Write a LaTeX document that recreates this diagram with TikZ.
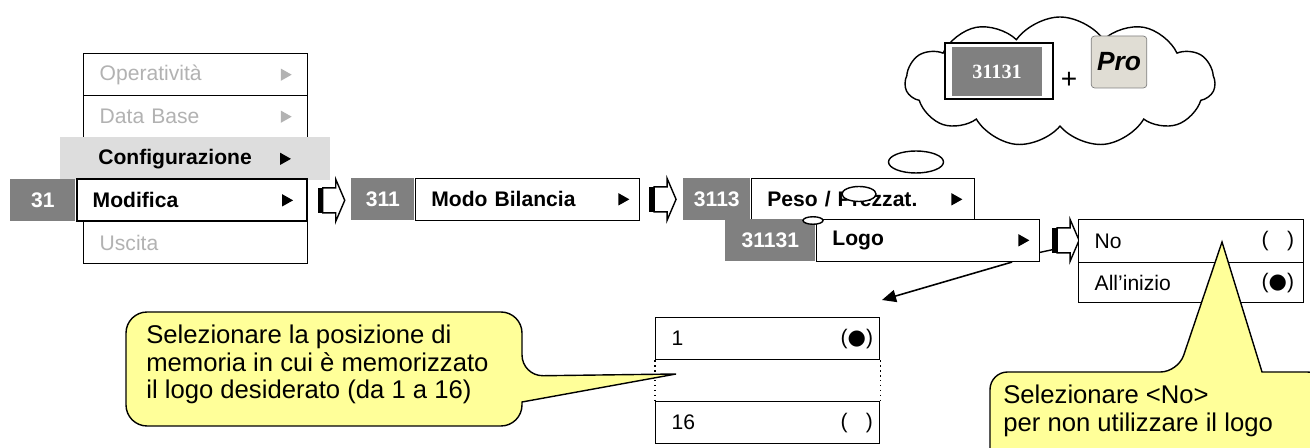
\documentclass[tikz,border=0pt]{standalone}
\usepackage{fontspec}
\setmainfont{Liberation Sans}
\newfontfamily\codefont{Liberation Serif}
\newfontfamily\dotfont{DejaVu Sans}
\usepackage{tikz}
\usetikzlibrary{shapes.geometric, shapes.symbols, arrows.meta, positioning, calc}
\definecolor{mygray}{RGB}{128,128,128}
\definecolor{mylight}{RGB}{221,221,221}
\definecolor{mydim}{RGB}{178,178,178}
\definecolor{myyellow}{RGB}{255,255,153}
\definecolor{mykey}{RGB}{224,221,212}
\tikzset{
  rowbox/.style={rectangle, draw=black, fill=white, line width=0.8pt,
    anchor=north west, minimum height=0.84cm, inner xsep=0.32cm,
    text width=#1, align=left, font=\fontsize{12}{14}\selectfont},
  menubox/.style={rowbox=#1, font=\fontsize{12}{14}\selectfont\bfseries},
  numbox/.style={rectangle, fill=mygray, text=white, anchor=north west,
    minimum width=#1, minimum height=0.84cm, inner sep=0pt,
    font=\fontsize{12}{14}\selectfont\bfseries},
  tri/.style={isosceles triangle, isosceles triangle stretches, fill=#1,
    inner sep=0pt, minimum width=7pt, minimum height=6.2pt},
  val/.style={anchor=east, inner sep=0pt, font=\fontsize{12}{14}\selectfont},
  bubble/.style={ellipse, draw=black, fill=white, line width=0.8pt, inner sep=0pt},
  callout/.style={draw=black, fill=myyellow, line width=0.8pt},
  note/.style={anchor=north west, align=left, inner sep=0pt,
    font=\fontsize{14.6}{15.6}\selectfont},
  pics/blockarrow/.style={code={
    \fill[black] (0,-12.5) rectangle (5,12.5);
    \draw[line width=0.8pt, fill=white]
      (5,-12.5) -- (18,-12.5) -- (18,-21) -- (27,0) -- (18,21) -- (18,12.5) -- (5,12.5) -- cycle;
  }}
}

\begin{document}
\begin{tikzpicture}[x=0.02cm, y=-0.02cm]
  \useasboundingbox (0,0) rectangle (1310,448);

  % Menu 31
  \node[rowbox=3.84cm, text=mydim] (oper) at (83,53) {Operatività};
  \node[tri=mydim] (operT) at ([xshift=-0.48cm]oper.east) {};
  \node[rowbox=3.84cm, text=mydim] (datab) at (83,95) {Data Base};
  \node[tri=mydim] (databT) at ([xshift=-0.48cm]datab.east) {};
  \node[rectangle, fill=mylight, anchor=north west, minimum width=5.4cm,
    minimum height=0.86cm, inner xsep=0.76cm, text width=3.88cm, align=left,
    font=\fontsize{12}{14}\selectfont\bfseries] (conf) at (60,137) {Configurazione};
  \node[tri=black] (confT) at ([xshift=-0.94cm]conf.east) {};
  \node[rowbox=3.84cm, text=mydim] (uscita) at (83,221) {Uscita};
  \node[numbox=1.3cm] (n31) at (10,179) {31};
  \node[menubox=3.96cm, line width=1.2pt, right=0pt of n31] (modif) {Modifica};
  \node[tri=black] (modifT) at ([xshift=-0.44cm]modif.east) {};
  \pic at ([xshift=0.2cm]modif.east) {blockarrow};

  % Menu 311
  \node[numbox=1.26cm] (n311) at (351,178) {311};
  \node[menubox=3.84cm, right=0pt of n311] (modo) {Modo Bilancia};
  \node[tri=black] (modoT) at ([xshift=-0.36cm]modo.east) {};
  \pic at ([xshift=0.18cm]modo.east) {blockarrow};

  % Menu 3113 / 31131
  \node[numbox=1.34cm] (n3113) at (683,178) {3113};
  \node[menubox=3.82cm, right=0pt of n3113] (peso) {Peso / Prezzat.};
  \node[tri=black] (pesoT) at ([xshift=-0.4cm]peso.east) {};
  \node[bubble, minimum width=0.68cm, minimum height=0.3cm] (bub2) at (859,194) {};
  \node[numbox=1.8cm] (n31131) at (725,219) {31131};
  \node[menubox=3.82cm, right=0pt of n31131] (logo) {Logo};
  \node[tri=black] (logoT) at ([xshift=-0.36cm]logo.east) {};
  \node[bubble, minimum width=0.4cm, minimum height=0.15cm] (bub3) at (813,220.5) {};
  \node[bubble, minimum width=1.1cm, minimum height=0.44cm] (bub1) at (916,162) {};

  % Thought cloud
  \node[cloud, draw=black, fill=white, line width=0.8pt, cloud puffs=11,
    cloud puff arc=110, aspect=2.3, minimum width=6.2cm, minimum height=2.6cm] (think) at (1060,82) {};
  \node[draw=black, fill=white, line width=0.9pt, minimum width=2.16cm, minimum height=1.12cm] (keyframe) at (999,71) {};
  \node[fill=mygray, text=white, minimum width=1.8cm, minimum height=0.98cm,
    font=\codefont\bfseries\fontsize{11.5}{12}\selectfont] (keycode) at (997,71.5) {31131};
  \node[font=\fontsize{16}{16}\selectfont] (plus) at (1069,80) {+};
  \node[draw=gray, fill=mykey, rounded corners=2pt, minimum width=1.08cm, minimum height=1.04cm,
    font=\fontsize{15}{15}\selectfont\bfseries\itshape] (pro) at (1119,62) {Pro};

  % Options
  \draw[line width=0.8pt] ([yshift=-0.24cm]logo.east) -- ++(14,-3);
  \pic at ([xshift=0.24cm]logo.east) {blockarrow};
  \node[rowbox=3.86cm, minimum height=0.86cm] (optNo) at (1078,219) {No};
  \node[val] (optNoV) at ([xshift=-0.2cm]optNo.east) {(\phantom{\dotfont ●})};
  \node[rowbox=3.86cm, minimum height=0.8cm] (optAll) at (1078,262) {All’inizio};
  \node[val] (optAllV) at ([xshift=-0.2cm]optAll.east) {({\dotfont ●})};

  % Logo positions
  \coordinate (pick) at (882,300);
  \draw[-{Triangle[length=8pt, width=7pt]}, line width=0.9pt] ([xshift=-0.56cm]logo.south east) -- (pick);
  \node[rowbox=3.84cm] (list1) at (655,317) {1};
  \node[val] (list1V) at ([xshift=-0.14cm]list1.east) {({\dotfont ●})};
  \node[rowbox=3.84cm] (list16) at (655,401) {16};
  \node[val] (list16V) at ([xshift=-0.14cm]list16.east) {(\phantom{\dotfont ●})};
  \draw[dotted, line width=0.8pt] (list1.south west) -- (list16.north west);
  \draw[dotted, line width=0.8pt] (list1.south east) -- (list16.north east);

  % Callouts
  \coordinate (tipA) at (676,374);
  \draw[callout, rounded corners=12pt] (126,312) -- (522,312) -- (522,376)
    [sharp corners] -- (tipA) -- (522,402) [rounded corners=12pt] -- (522,426) -- (126,426) -- cycle;
  \node[note] (noteA) at (146,325) {Selezionare la posizione di\\memoria in cui è memorizzato\\il logo desiderato (da 1 a 16)};
  \coordinate (tipB) at (1222,242);
  \draw[callout, rounded corners=10pt] (990,470) -- (990,372) -- (1178,372)
    [sharp corners] -- (tipB) -- (1262,372) [rounded corners=10pt] -- (1325,372) -- (1325,470) -- cycle;
  \node[note] (noteB) at (1003,385) {Selezionare <No>\\per non utilizzare il logo};
\end{tikzpicture}
\end{document}
